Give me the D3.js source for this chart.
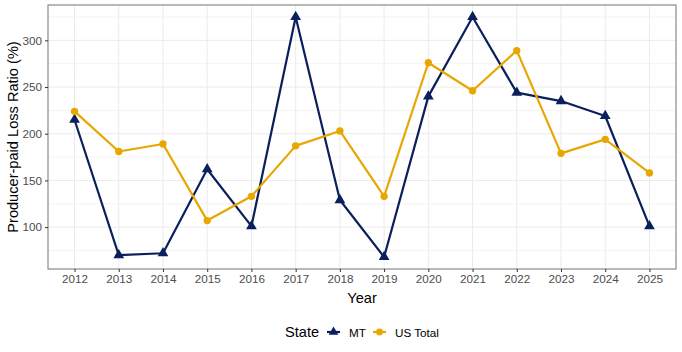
<!DOCTYPE html>
<html>
<head>
<meta charset="utf-8">
<script src="https://cdn.jsdelivr.net/npm/d3@7"></script>
<style>
  body { margin: 0; background: #fff; }
  svg { font-family: "Liberation Sans", Arial, sans-serif; }
</style>
</head>
<body>
<svg id="chart" width="682" height="352"></svg>
<script>
var years = [2012, 2013, 2014, 2015, 2016, 2017, 2018, 2019, 2020, 2021, 2022, 2023, 2024, 2025];
var mtValues = [215, 70, 72, 162, 101, 325, 129, 68, 240, 325, 244, 235, 219, 101];
var usValues = [224, 181, 189, 107, 133, 187, 203, 133, 276, 246, 289, 179, 194, 158];
var yTicks = [100, 150, 200, 250, 300];
var yMinor = [75, 125, 175, 225, 275, 325];

var series = [
  { name: 'MT', values: mtValues, color: '#0B1F5C', shape: d3.symbolTriangle },
  { name: 'US Total', values: usValues, color: '#E8A600', shape: d3.symbolCircle }
];

var margin = { left: 48, top: 5, right: 6, bottom: 83 };
var width = 682 - margin.left - margin.right;
var height = 352 - margin.top - margin.bottom;

var svg = d3.select('#chart');
var g = svg.append('g')
  .attr('transform', 'translate(' + margin.left + ',' + margin.top + ')');

// discrete x with ggplot-like 0.6 padding on each side
var xScale = d3.scalePoint()
  .domain(years)
  .range([0, width])
  .padding(0.6);

var allVals = mtValues.concat(usValues);
var lo = d3.min(allVals), hi = d3.max(allVals);
var pad = (hi - lo) * 0.05;
var yScale = d3.scaleLinear()
  .domain([lo - pad, hi + pad])
  .range([height, 0]);

// grid
g.selectAll('.minor-y').data(yMinor).enter()
  .append('line')
  .attr('x1', 0).attr('x2', width)
  .attr('y1', d => yScale(d)).attr('y2', d => yScale(d))
  .attr('stroke', '#F3F3F3').attr('stroke-width', 1);

g.selectAll('.major-y').data(yTicks).enter()
  .append('line')
  .attr('x1', 0).attr('x2', width)
  .attr('y1', d => yScale(d)).attr('y2', d => yScale(d))
  .attr('stroke', '#EBEBEB').attr('stroke-width', 1);

g.selectAll('.major-x').data(years).enter()
  .append('line')
  .attr('x1', d => xScale(d)).attr('x2', d => xScale(d))
  .attr('y1', 0).attr('y2', height)
  .attr('stroke', '#EBEBEB').attr('stroke-width', 1);

// lines and points
var line = d3.line()
  .x((d, i) => xScale(years[i]))
  .y(d => yScale(d));

series.forEach(function(s) {
  g.append('path')
    .datum(s.values)
    .attr('fill', 'none')
    .attr('stroke', s.color)
    .attr('stroke-width', 2.2)
    .attr('stroke-linejoin', 'round')
    .attr('d', line);
});

series.forEach(function(s) {
  var sym = d3.symbol().type(s.shape).size(s.shape === d3.symbolCircle ? 42 : 50);
  g.selectAll(null).data(s.values).enter()
    .append('path')
    .attr('d', sym)
    .attr('fill', s.color)
    .attr('transform', (d, i) => 'translate(' + xScale(years[i]) + ',' + yScale(d) + ')');
});

// panel border
g.append('rect')
  .attr('width', width).attr('height', height)
  .attr('fill', 'none')
  .attr('stroke', '#7F7F7F').attr('stroke-width', 1.1);

// axes
var xAxis = d3.axisBottom(xScale).tickSize(3).tickPadding(3);
var yAxis = d3.axisLeft(yScale).tickValues(yTicks).tickSize(3).tickPadding(3);

var xg = g.append('g')
  .attr('transform', 'translate(0,' + height + ')')
  .call(xAxis);
var yg = g.append('g').call(yAxis);

[xg, yg].forEach(function(a) {
  a.select('.domain').remove();
  a.selectAll('line').attr('stroke', '#333333');
  a.selectAll('text')
    .attr('fill', '#4D4D4D')
    .style('font-size', '11.7px')
    .style('font-family', '"Liberation Sans", Arial, sans-serif');
});

// axis titles
svg.append('text')
  .attr('x', margin.left + width / 2)
  .attr('y', 303)
  .attr('text-anchor', 'middle')
  .style('font-size', '14.6px')
  .text('Year');

svg.append('text')
  .attr('transform', 'translate(18,' + (margin.top + height / 2) + ') rotate(-90)')
  .attr('text-anchor', 'middle')
  .style('font-size', '14.6px')
  .text('Producer-paid Loss Ratio (%)');

// legend
var legend = svg.append('g').attr('transform', 'translate(0,332)');
legend.append('text')
  .attr('x', 285).attr('y', 5)
  .style('font-size', '14.6px')
  .text('State');

var legendX = [327, 373];
series.forEach(function(s, i) {
  var lx = legendX[i];
  legend.append('line')
    .attr('x1', lx).attr('x2', lx + 13)
    .attr('stroke', s.color).attr('stroke-width', 2.2);
  legend.append('path')
    .attr('d', d3.symbol().type(s.shape).size(s.shape === d3.symbolCircle ? 36 : 40))
    .attr('fill', s.color)
    .attr('transform', 'translate(' + (lx + 6.5) + ',0)');
  legend.append('text')
    .attr('x', lx + 22).attr('y', 4.5)
    .style('font-size', '11.7px')
    .attr('fill', '#000')
    .text(s.name);
});
</script>
</body>
</html>
